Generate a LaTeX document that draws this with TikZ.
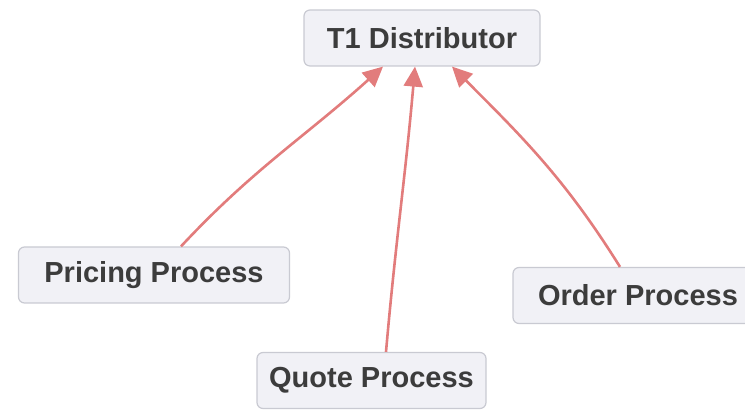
\documentclass[tikz,border=0pt]{standalone}
\usepackage{fontspec}
\setmainfont{Liberation Sans}
\usetikzlibrary{arrows.meta, positioning}
\definecolor{boxfill}{HTML}{F1F1F6}
\definecolor{boxline}{HTML}{C9CAD2}
\definecolor{linkred}{HTML}{E27C7C}
\definecolor{textgray}{HTML}{3C3C3C}

\begin{document}
\begin{tikzpicture}[x=1pt, y=1pt, font=\fontsize{29}{33}\selectfont\bfseries,
    procbox/.style={draw=boxline, fill=boxfill, line width=1.2pt, rounded corners=6pt, text=textgray, minimum height=56pt, inner sep=0pt},
    link/.style={draw=linkred, line width=2.6pt, -{Triangle[length=20pt, width=19pt]}}]
    \useasboundingbox (0,0) rectangle (745,411);

    \node[procbox, minimum width=236pt] (dist) at (422,373) {T1 Distributor};
    \node[procbox, minimum width=271pt] (pricing) at (154,136) {Pricing Process};
    \node[procbox, minimum width=229pt] (quote) at (371.5,30.5) {Quote Process};
    \node[procbox, minimum width=250pt] (order) at (638,115.5) {Order Process};

    \draw[link] ([xshift=27pt]pricing.north) to[out=47, in=-138] ([xshift=-39pt]dist.south);
    \draw[link] ([xshift=14.5pt]quote.north) to[out=85, in=-95] ([xshift=-7pt]dist.south);
    \draw[link] ([xshift=-18pt]order.north) to[out=122, in=-45] ([xshift=30pt]dist.south);
\end{tikzpicture}
\end{document}
